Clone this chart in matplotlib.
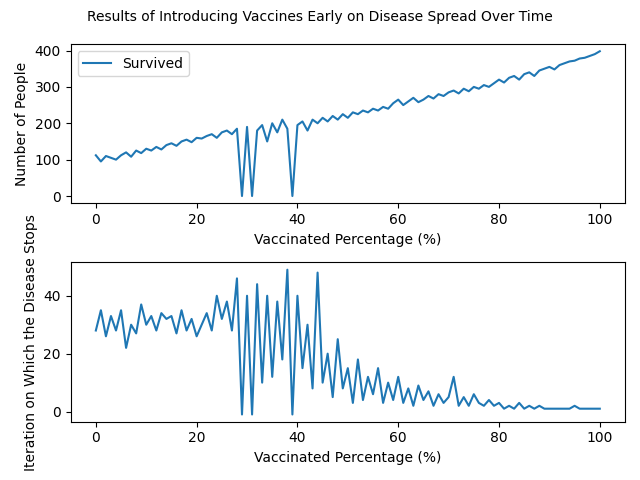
import numpy as np
import matplotlib
matplotlib.use("Agg")
import matplotlib.pyplot as plt

# vaccinated percentage (estimated every 1%)
vaccinated = np.arange(0, 101)

survived = [112, 95, 110, 105, 100, 112, 120, 108, 125, 118,
            130, 125, 135, 128, 140, 145, 138, 150, 155, 148,
            160, 158, 165, 170, 160, 175, 180, 170, 185, 0,
            190, 0, 180, 195, 150, 200, 175, 210, 185, 0,
            195, 205, 180, 210, 200, 215, 205, 220, 210, 225,
            215, 230, 225, 235, 230, 240, 235, 245, 240, 255,
            265, 250, 260, 270, 258, 265, 275, 268, 280, 275,
            285, 290, 282, 295, 288, 300, 295, 305, 300, 310,
            320, 312, 325, 330, 320, 335, 340, 330, 345, 350,
            355, 348, 360, 365, 370, 372, 378, 380, 385, 390, 398]

stop_iter = [28, 35, 26, 33, 28, 35, 22, 30, 27, 37,
             30, 33, 28, 34, 32, 33, 27, 35, 28, 32,
             26, 30, 34, 28, 40, 32, 38, 28, 46, -1,
             40, -1, 44, 10, 40, 12, 38, 18, 49, -1,
             40, 15, 30, 8, 48, 10, 20, 5, 25, 8,
             15, 3, 18, 4, 12, 6, 15, 3, 10, 4,
             12, 3, 8, 2, 9, 4, 7, 2, 6, 3,
             5, 12, 2, 5, 2, 6, 3, 2, 4, 2,
             3, 1, 2, 1, 3, 1, 2, 1, 2, 1,
             1, 1, 1, 1, 1, 2, 1, 1, 1, 1, 1]

fig, (ax1, ax2) = plt.subplots(2, 1, figsize=(6.4, 4.8))
fig.suptitle("Results of Introducing Vaccines Early on Disease Spread Over Time", fontsize=10)

ax1.plot(vaccinated, survived, label="Survived")
ax1.set_xlabel("Vaccinated Percentage (%)")
ax1.set_ylabel("Number of People")
ax1.legend(loc="upper left")

ax2.plot(vaccinated, stop_iter)
ax2.set_xlabel("Vaccinated Percentage (%)")
ax2.set_ylabel("Iteration on Which the Disease Stops")

fig.tight_layout()
fig.savefig("out.png", dpi=100)
